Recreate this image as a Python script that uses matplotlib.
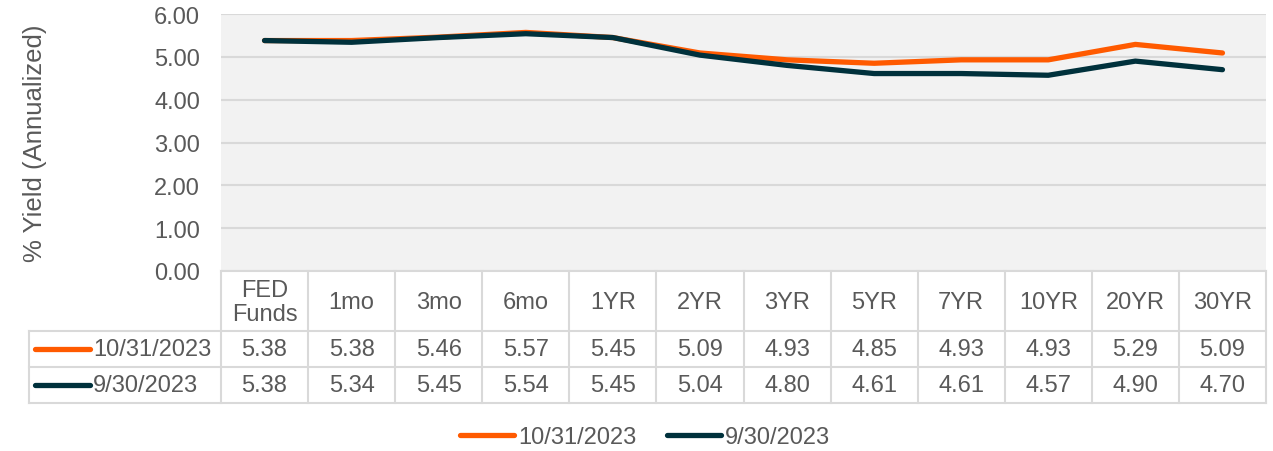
import matplotlib
matplotlib.use("Agg")
import matplotlib.pyplot as plt
from matplotlib.lines import Line2D

# data
categories = ["FED\nFunds", "1mo", "3mo", "6mo", "1YR", "2YR", "3YR", "5YR", "7YR", "10YR", "20YR", "30YR"]
oct_2023 = [5.38, 5.38, 5.46, 5.57, 5.45, 5.09, 4.93, 4.85, 4.93, 4.93, 5.29, 5.09]
sep_2023 = [5.38, 5.34, 5.45, 5.54, 5.45, 5.04, 4.80, 4.61, 4.61, 4.57, 4.90, 4.70]
series_names = ["10/31/2023", "9/30/2023"]
yticks = [0, 1, 2, 3, 4, 5, 6]

ORANGE = "#FF5A00"
DARK = "#00313C"
TXT = "#595959"
GRID = "#D9D9D9"
FS = 17

plt.rcParams["font.family"] = ["Liberation Sans", "DejaVu Sans"]

W, H = 1273, 452
fig = plt.figure(figsize=(W / 100, H / 100), dpi=100)

# plot area in pixels
px_l, px_r, px_t, px_b = 221, 1266, 15, 272
ax = fig.add_axes([px_l / W, 1 - px_b / H, (px_r - px_l) / W, (px_b - px_t) / H])
ax.set_facecolor("#F2F2F2")
n = len(categories)
ax.set_xlim(-0.5, n - 0.5)
ax.set_ylim(0, 6)
ax.set_yticks(yticks)
ax.set_yticklabels([f"{v:.2f}" for v in yticks], fontsize=FS, color=TXT)
ax.set_xticks([])
ax.tick_params(axis="y", length=0, pad=15)
ax.grid(axis="y", color=GRID, linewidth=1.5)
ax.set_axisbelow(True)
for s in ax.spines.values():
    s.set_visible(False)
ax.set_ylabel("% Yield (Annualized)", fontsize=18.5, color=TXT)
ax.yaxis.set_label_coords(-(px_l - 35) / (px_r - px_l), 0.5)
ax.yaxis.label.set_va("center")

colors = [ORANGE, DARK]
for vals, c, name in zip([oct_2023, sep_2023], colors, series_names):
    ax.plot(range(n), vals, color=c, linewidth=3.8, solid_capstyle="round",
            solid_joinstyle="round", label=name)

# data table underneath
col_w = (px_r - px_l) / n
tab_l = 29
row_y = [272, 332, 368, 404]
tax = fig.add_axes([tab_l / W, 1 - row_y[-1] / H, (px_r - tab_l) / W, (row_y[-1] - row_y[0]) / H])
tax.set_xlim(-0.5 - (px_l - tab_l) / col_w, n - 0.5)
tax.set_ylim(row_y[-1], row_y[0])
tax.axis("off")
lkw = dict(color=GRID, linewidth=1.5, clip_on=False)
x0 = tax.get_xlim()[0]
tax.plot([-0.5, n - 0.5], [row_y[0]] * 2, **lkw)
for y in row_y[1:]:
    tax.plot([x0, n - 0.5], [y, y], **lkw)
for i in range(n + 1):
    tax.plot([i - 0.5] * 2, [row_y[0], row_y[-1]], **lkw)
tax.plot([x0, x0], [row_y[1], row_y[-1]], **lkw)

for i, cat in enumerate(categories):
    tax.text(i, (row_y[0] + row_y[1]) / 2 + 1, cat, ha="center", va="center",
             fontsize=FS, color=TXT, linespacing=1.1)
for r, (vals, c, name) in enumerate(zip([oct_2023, sep_2023], colors, series_names)):
    yc = (row_y[r + 1] + row_y[r + 2]) / 2
    for i, v in enumerate(vals):
        tax.text(i, yc, f"{v:.2f}", ha="center", va="center", fontsize=FS, color=TXT)
    tax.plot([x0 + 6 / col_w, x0 + 61 / col_w], [yc, yc], color=c, linewidth=3.8,
             solid_capstyle="round", clip_on=False)
    tax.text(x0 + 64 / col_w, yc, name, ha="left", va="center", fontsize=FS, color=TXT)

handles = [Line2D([], [], color=c, linewidth=3.8, solid_capstyle="round") for c in colors]
fig.legend(handles, series_names, loc="center", bbox_to_anchor=(645 / W, 1 - 438 / H),
           ncol=2, frameon=False, fontsize=FS, labelcolor=TXT, handlelength=2.3,
           handletextpad=0.15, columnspacing=1.3)

fig.savefig("out.png", dpi=100)
